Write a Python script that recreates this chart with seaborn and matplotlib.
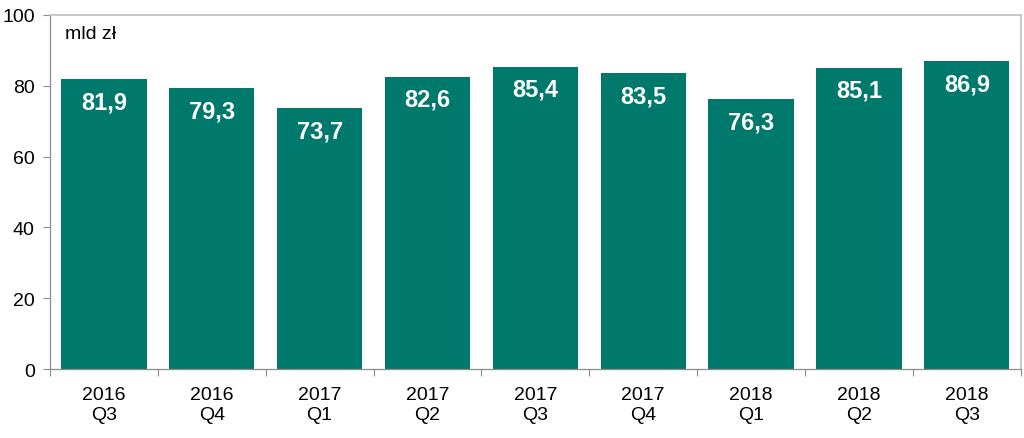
import pandas as pd
import matplotlib
matplotlib.use("Agg")
import matplotlib.pyplot as plt
import seaborn as sns

# Chart data
quarters = ["2016\nQ3", "2016\nQ4", "2017\nQ1", "2017\nQ2", "2017\nQ3",
            "2017\nQ4", "2018\nQ1", "2018\nQ2", "2018\nQ3"]
values = [81.9, 79.3, 73.7, 82.6, 85.4, 83.5, 76.3, 85.1, 86.9]

df = pd.DataFrame({"quarter": quarters, "value": values})

sns.set_style("white")
plt.rcParams["font.family"] = ["Liberation Sans", "DejaVu Sans"]

fig = plt.figure(figsize=(10.24, 4.39), dpi=100)
ax = fig.add_axes([0.0488, 0.157, 0.948, 0.8066])

sns.barplot(data=df, x="quarter", y="value", color="#00796D", saturation=1,
            width=0.79, linewidth=0, ax=ax)

# Value labels inside bars
for i, v in enumerate(values):
    ax.text(i, v - 6.4, f"{v:.1f}".replace(".", ","), ha="center", va="center",
            color="white", fontsize=17, fontweight="bold")

ax.text(0.0155, 0.949, "mld zł", transform=ax.transAxes, fontsize=14,
        ha="left", va="center", color="black")

ax.set_ylim(0, 100)
ax.set_xlim(-0.5, len(values) - 0.5)
ax.set_yticks(range(0, 101, 20))
ax.set_xlabel("")
ax.set_ylabel("")

# Ticks: y outside left, x separators between categories
ax.tick_params(axis="y", which="major", left=True, length=5, width=0.8,
               color="#8C8C8C", labelsize=14, labelcolor="black", pad=6)
ax.tick_params(axis="x", which="major", bottom=False, labelsize=14,
               labelcolor="black", pad=9)
ax.set_xticks([i + 0.5 for i in range(-1, len(values))], minor=True)
ax.tick_params(axis="x", which="minor", bottom=True, length=5, width=0.8,
               color="#8C8C8C")

for side in ["left", "bottom"]:
    ax.spines[side].set_color("#8C8C8C")
    ax.spines[side].set_linewidth(0.9)
for side in ["top", "right"]:
    ax.spines[side].set_visible(True)
    ax.spines[side].set_color("#BFBFBF")
    ax.spines[side].set_linewidth(1.2)

fig.savefig("out.png", dpi=100)
